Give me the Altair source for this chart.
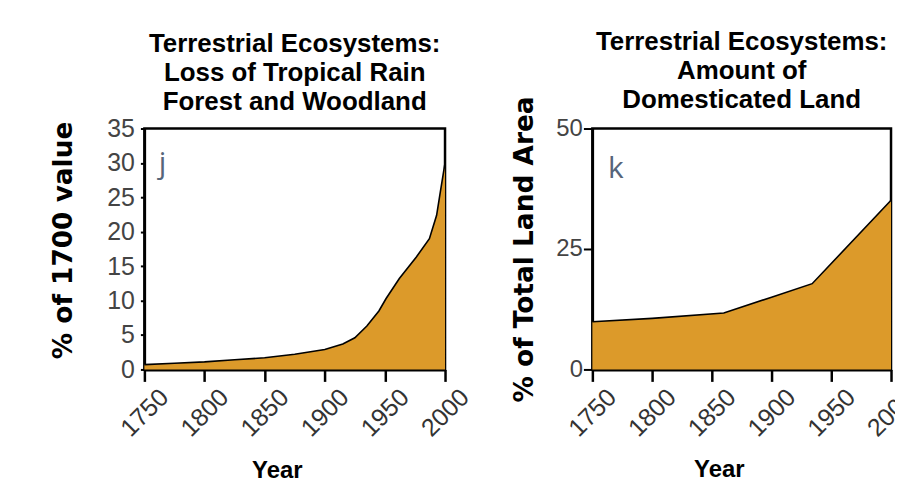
import altair as alt
import pandas as pd

# ---- data ----
years_j = [1750, 1775, 1800, 1825, 1850, 1875, 1900, 1915, 1925, 1935, 1945, 1951, 1962, 1976, 1987, 1993, 1996, 2000]
loss_j = [0.7, 0.9, 1.1, 1.4, 1.7, 2.2, 2.9, 3.7, 4.6, 6.3, 8.5, 10.3, 13.2, 16.3, 19.0, 22.4, 25.7, 30.0]

years_k = [1750, 1800, 1860, 1900, 1934, 2000]
land_k = [9.9, 10.6, 11.7, 15.0, 17.8, 35.1]

x_ticks = [1750, 1800, 1850, 1900, 1950, 2000]
y_ticks_j = [0, 5, 10, 15, 20, 25, 30, 35]
y_ticks_k = [0, 25, 50]

title_j = ["Terrestrial Ecosystems:", "Loss of Tropical Rain", "Forest and Woodland"]
title_k = ["Terrestrial Ecosystems:", "Amount of", "Domesticated Land"]
ytitle_j = "% of 1700 value"
ytitle_k = "% of Total Land Area"
xtitle = "Year"

panel_label_j = ["j"]
panel_label_j_pos = [1762, 28.6]
panel_label_k = ["k"]
panel_label_k_pos = [1763, 39.8]

FILL = "#dc9a2a"
LABEL_BLUE = "#56657a"

df_j = pd.DataFrame({"year": years_j, "value": loss_j})
df_k = pd.DataFrame({"year": years_k, "value": land_k})
lab_j = pd.DataFrame({"year": [panel_label_j_pos[0]], "value": [panel_label_j_pos[1]], "t": panel_label_j})
lab_k = pd.DataFrame({"year": [panel_label_k_pos[0]], "value": [panel_label_k_pos[1]], "t": panel_label_k})


def xaxis(title_x, title_y):
    return alt.Axis(
        values=x_ticks, format="d", labelAngle=-45, labelFontSize=25,
        labelColor="#333333", labelFont="Liberation Sans", labelPadding=3,
        labelOffset=11, labelOverlap=False,
        tickSize=12, tickWidth=2.5, tickColor="black",
        domainColor="black", domainWidth=3, grid=False,
        title=xtitle, titleFont="Liberation Sans", titleFontSize=24,
        titleFontWeight="bold", titleColor="black",
        titleX=title_x, titleY=title_y, titleBaseline="alphabetic",
        titleAnchor="start", titleAlign="center",
    )


def yaxis(values, title, tick_size, label_pad, label_size, title_x, title_y):
    return alt.Axis(
        values=values, grid=False, labelFontSize=label_size,
        labelColor="#444444", labelFont="Liberation Sans", labelPadding=label_pad,
        labelOverlap=False,
        tickSize=tick_size, tickWidth=2, tickColor="black",
        domainColor="black", domainWidth=2.5,
        title=title, titleFont="DejaVu Sans", titleFontSize=26.5,
        titleFontWeight="bold", titleColor="black",
        titleX=title_x, titleY=title_y, titleBaseline="alphabetic",
        titleAngle=-90, titleAlign="center",
    )


def panel(df, lab, yvals, ydom, title, ytitle, width, tick_size, label_pad, label_size,
          ytx, yty, xtx, xty, title_dy):
    x = alt.X("year:Q", scale=alt.Scale(domain=[1750, 2000], nice=False, zero=False),
              axis=xaxis(xtx, xty))
    y = alt.Y("value:Q", scale=alt.Scale(domain=ydom, nice=False),
              axis=yaxis(yvals, ytitle, tick_size, label_pad, label_size, ytx, yty))
    area = alt.Chart(df).mark_area(
        color=FILL, line={"color": "black", "strokeWidth": 1.6}, opacity=1
    ).encode(x=x, y=y)
    txt = alt.Chart(lab).mark_text(
        align="left", baseline="alphabetic", font="Open Sans", fontSize=30,
        fontWeight="normal", color=LABEL_BLUE
    ).encode(x=x, y=y, text="t:N")
    return alt.layer(area, txt).properties(
        width=width, height=242,
        title=alt.TitleParams(
            title, font="Liberation Sans", fontSize=26, fontWeight="bold",
            lineHeight=29, anchor="middle", color="black", offset=2, dy=title_dy,
        ),
    )


left = panel(df_j, lab_j, y_ticks_j, [0, 35], title_j, ytitle_j, 302, 4, 6, 25,
             -73, 112, 133, 109, 0)
right = panel(df_k, lab_k, y_ticks_k, [0, 50], title_k, ytitle_k, 300, 9, 1, 24,
              -60, 121, 127, 108, 19)

chart = alt.hconcat(left, right, spacing=35).properties(
    padding={"left": 41, "top": 18, "right": -26, "bottom": -4},
    background="white",
).configure_view(
    stroke="black", strokeWidth=2.5
).configure_concat(spacing=35)

chart.save("out.html", embed_options={"renderer": "svg", "actions": False})
